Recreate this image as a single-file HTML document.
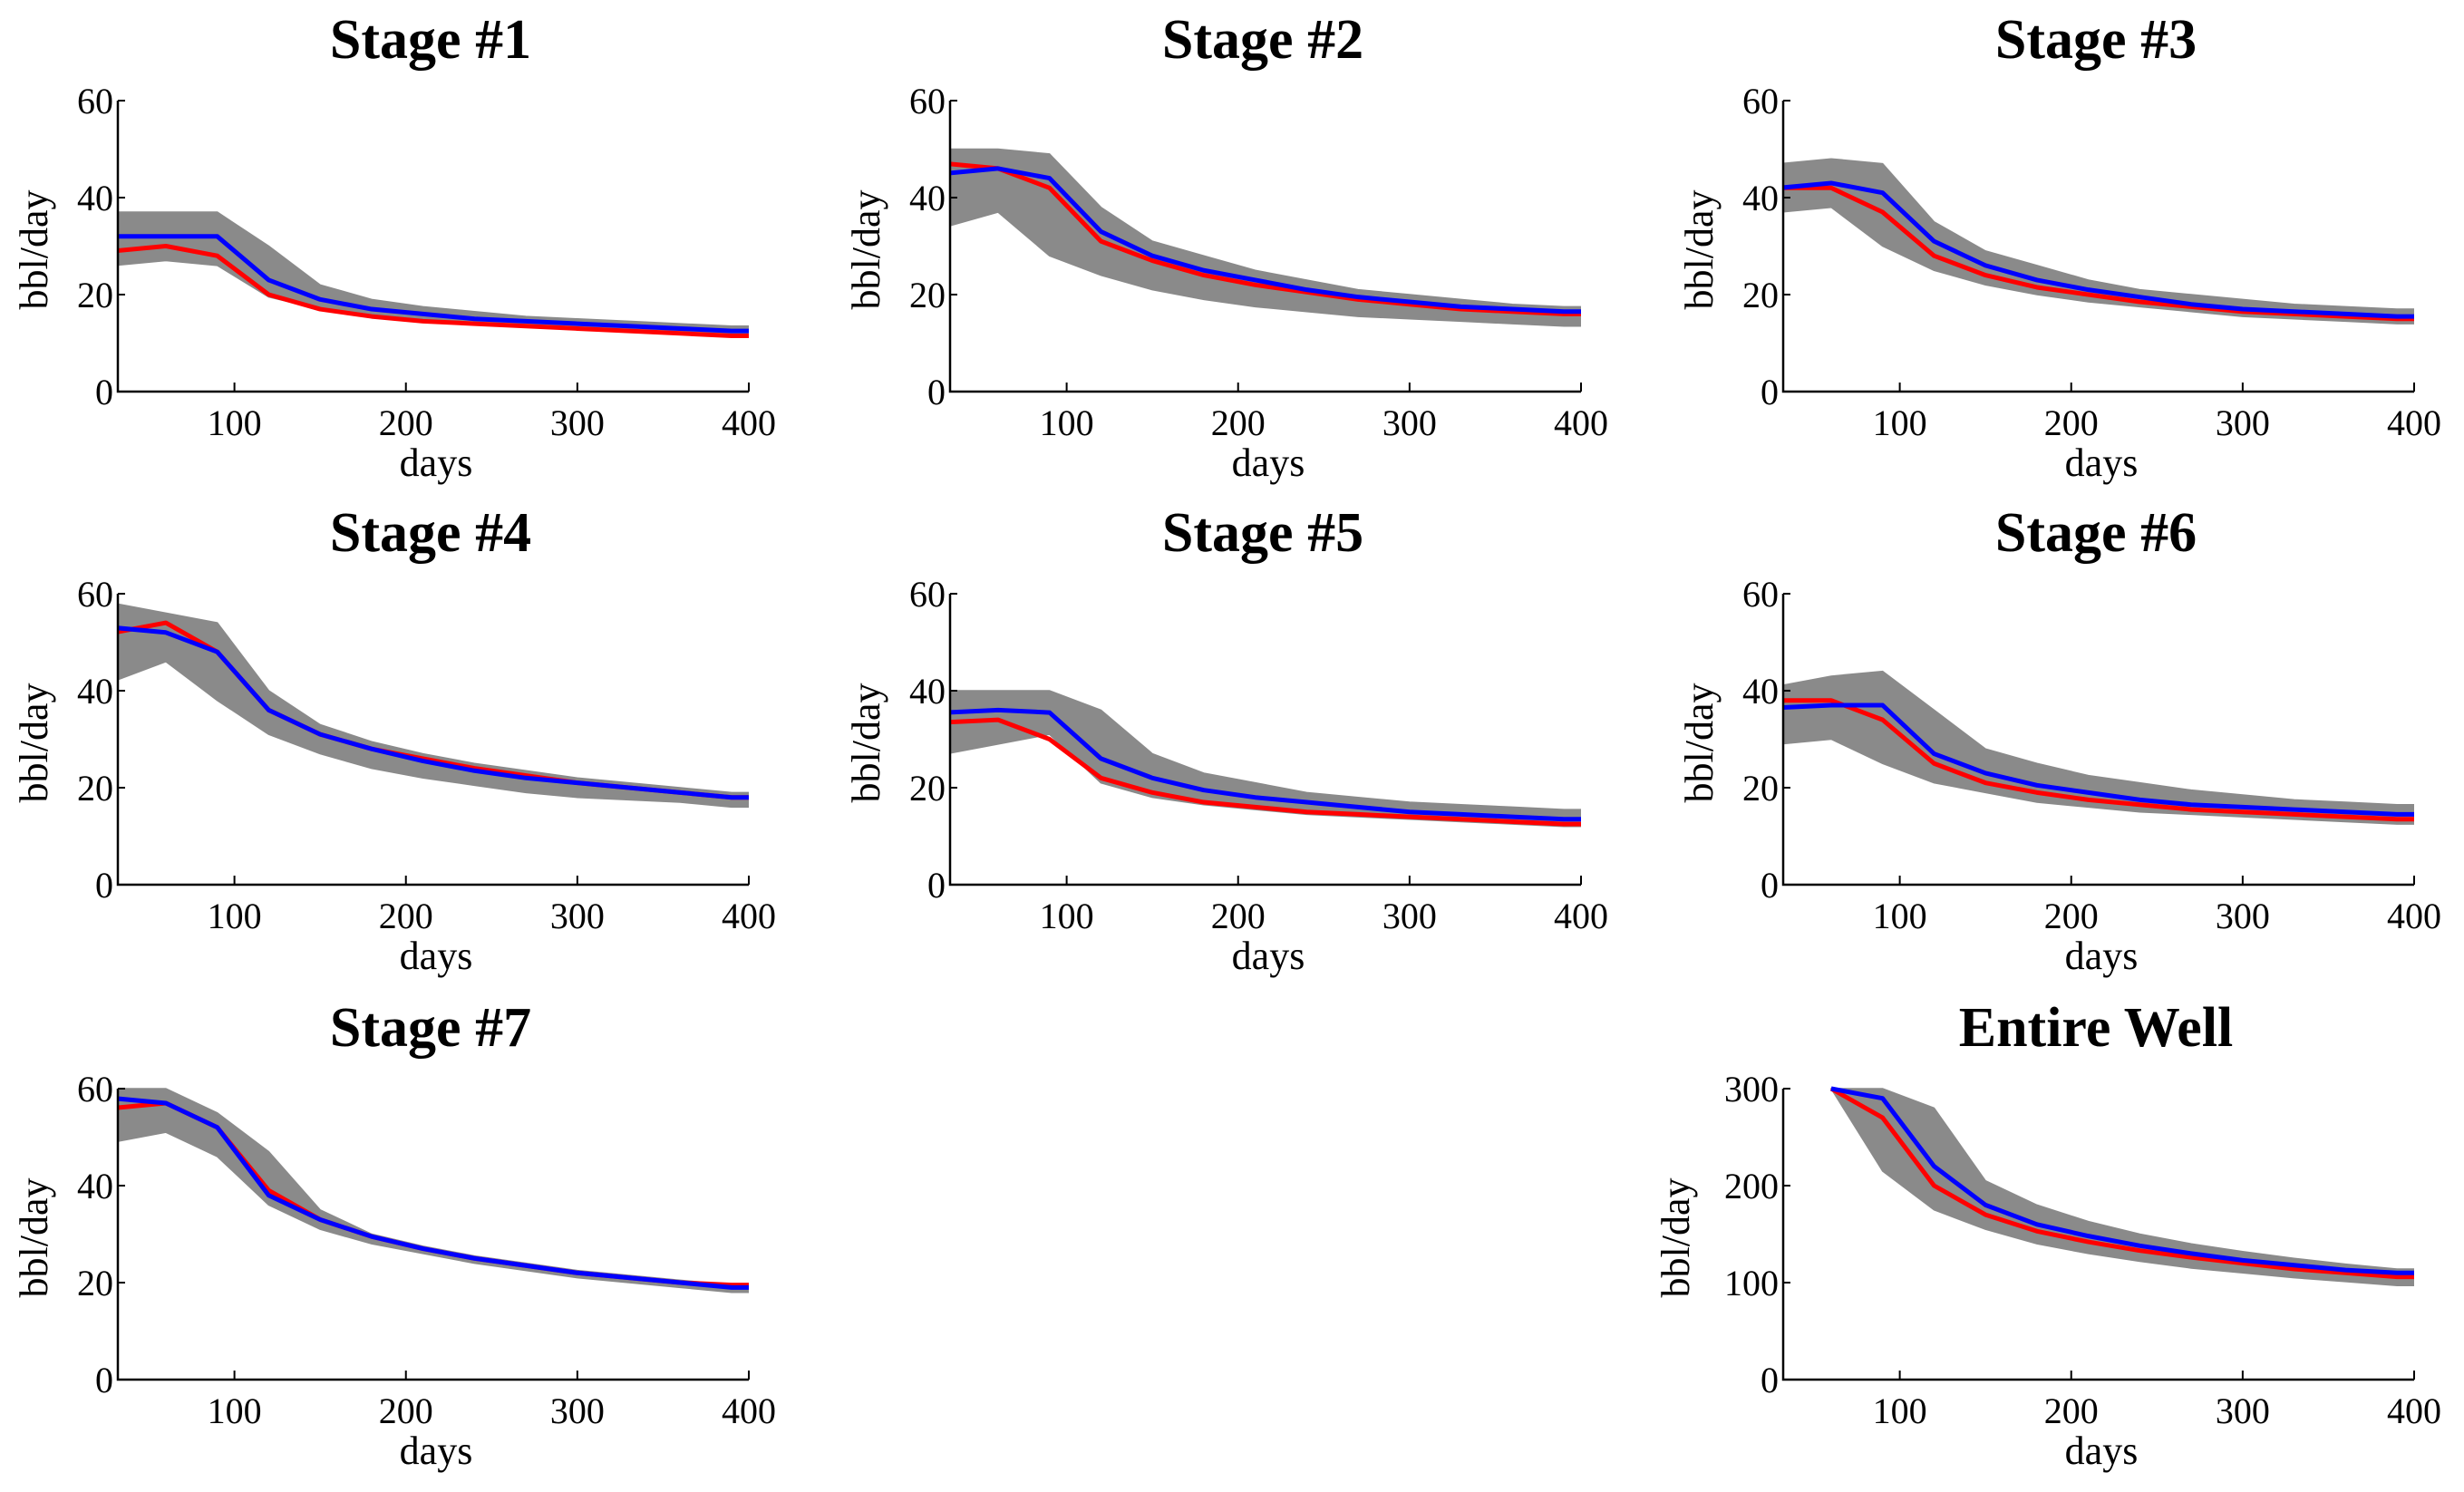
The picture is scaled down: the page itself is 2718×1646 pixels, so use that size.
<!DOCTYPE html>
<html><head><meta charset="utf-8"><style>
html,body{margin:0;padding:0;background:#fff;}
svg{display:block;}
text{font-family:"Liberation Serif",serif;fill:#000;}
</style></head><body>
<svg id="fig" width="2718" height="1646" viewBox="0 0 2718 1646"></svg>
<script>
const days = [30,60,90,120,150,180,210,240,270,300,330,360,390,400];
const wellDays = [60,90,120,150,180,210,240,270,300,330,360,390,400];
const xTicks = [100,200,300,400];
const yTicksStage = [0,20,40,60];
const yTicksWell = [0,100,200,300];
const titles = ["Stage #1","Stage #2","Stage #3","Stage #4","Stage #5","Stage #6","Stage #7","Entire Well"];

const blue1=[32,32,32,23,19,17,16,15,14.5,14,13.5,13,12.5,12.5];
const red1=[29,30,28,20,17,15.5,14.5,14,13.5,13,12.5,12,11.5,11.5];
const up1=[37,37,37,30,22,19,17.5,16.5,15.5,15,14.5,14,13.5,13.5];
const lo1=[26,27,26,19.5,17,15.5,14.5,14,13.5,13,12.5,12,11.5,11.5];

const blue2=[45,46,44,33,28,25,23,21,19.5,18.5,17.5,17,16.5,16.5];
const red2=[47,46,42,31,27,24,22,20.5,19,18,17,16.5,16,16];
const up2=[50,50,49,38,31,28,25,23,21,20,19,18,17.5,17.5];
const lo2=[34,37,28,24,21,19,17.5,16.5,15.5,15,14.5,14,13.5,13.5];

const blue3=[42,43,41,31,26,23,21,19.5,18,17,16.5,16,15.5,15.5];
const red3=[42,42,37,28,24,21.5,20,18.5,17.5,16.5,16,15.5,15,15];
const up3=[47,48,47,35,29,26,23,21,20,19,18,17.5,17,17];
const lo3=[37,38,30,25,22,20,18.5,17.5,16.5,15.5,15,14.5,14,14];

const blue4=[53,52,48,36,31,28,25.5,23.5,22,21,20,19,18,18];
const red4=[52,54,48,36,31,28,26,24,22.5,21,20,19,18,18];
const up4=[58,56,54,40,33,29.5,27,25,23.5,22,21,20,19,19];
const lo4=[42,46,38,31,27,24,22,20.5,19,18,17.5,17,16,16];

const blue5=[35.5,36,35.5,26,22,19.5,18,17,16,15,14.5,14,13.5,13.5];
const red5=[33.5,34,30,22,19,17,16,15,14.5,14,13.5,13,12.5,12.5];
const up5=[40,40,40,36,27,23,21,19,18,17,16.5,16,15.5,15.5];
const lo5=[27,29,31,21,18,16.5,15.5,14.5,14,13.5,13,12.5,12,12];

const blue6=[36.5,37,37,27,23,20.5,19,17.5,16.5,16,15.5,15,14.5,14.5];
const red6=[38,38,34,25,21,19,17.5,16.5,15.5,15,14.5,14,13.5,13.5];
const up6=[41,43,44,36,28,25,22.5,21,19.5,18.5,17.5,17,16.5,16.5];
const lo6=[29,30,25,21,19,17,16,15,14.5,14,13.5,13,12.5,12.5];

const blue7=[58,57,52,38,33,29.5,27,25,23.5,22,21,20,19,19];
const red7=[56,57,52,39,33,29.5,27,25,23.5,22,21,20,19.5,19.5];
const up7=[60,60,55,47,35,30,27.5,25.5,24,22.5,21.5,20.5,19.5,19.5];
const lo7=[49,51,46,36,31,28,26,24,22.5,21,20,19,18,18];

const blueW=[300,290,220,180,160,148,138,130,123,118,113,110,110];
const redW=[300,270,200,170,153,142,133,126,120,114,110,106,106];
const upW=[300,300,280,205,180,163,150,140,132,125,119,114,114];
const loW=[300,215,175,155,140,130,122,115,110,105,101,97,97];

const panels=[
 {col:0,row:0,d:days,b:blue1,r:red1,u:up1,l:lo1,yt:yTicksStage,yo:0},
 {col:1,row:0,d:days,b:blue2,r:red2,u:up2,l:lo2,yt:yTicksStage,yo:0},
 {col:2,row:0,d:days,b:blue3,r:red3,u:up3,l:lo3,yt:yTicksStage,yo:0},
 {col:0,row:1,d:days,b:blue4,r:red4,u:up4,l:lo4,yt:yTicksStage,yo:0},
 {col:1,row:1,d:days,b:blue5,r:red5,u:up5,l:lo5,yt:yTicksStage,yo:0},
 {col:2,row:1,d:days,b:blue6,r:red6,u:up6,l:lo6,yt:yTicksStage,yo:0},
 {col:0,row:2,d:days,b:blue7,r:red7,u:up7,l:lo7,yt:yTicksStage,yo:0},
 {col:2,row:2,d:wellDays,b:blueW,r:redW,u:upW,l:loW,yt:yTicksWell,yo:-26}
];
const NS="http://www.w3.org/2000/svg";
const svg=document.getElementById('fig');
function mk(tag,attrs,parent){const e=document.createElementNS(NS,tag);for(const k in attrs)e.setAttribute(k,attrs[k]);parent.appendChild(e);return e;}
const colX=[0,918,1837], rowY=[0,544,1090];
panels.forEach((p,i)=>{
  const ox=colX[p.col], oy=rowY[p.row];
  const L=130+ox, R=826+ox, T=111+oy, B=432+oy;
  const xmin=32,xmax=400,ymax=p.yt[p.yt.length-1];
  const xs=v=>L+(v-xmin)/(xmax-xmin)*(R-L);
  const ys=v=>B-v/ymax*(B-T);
  const g=mk('g',{},svg);
  
  
  const cid='clip'+i;
  const cp=mk('clipPath',{id:cid},g);
  mk('rect',{x:L,y:T-6,width:R-L,height:B-T+6},cp);
  const t=mk('text',{x:(L+R)/2-3,y:64+oy,'text-anchor':'middle','font-size':62,'font-weight':'bold'},g);
  t.textContent=titles[i];
  
  
  const dg=mk('g',{'clip-path':'url(#'+cid+')'},g);
  let pts=p.d.map((d,k)=>xs(d)+','+ys(p.u[k]));
  for(let k=p.d.length-1;k>=0;k--)pts.push(xs(p.d[k])+','+ys(p.l[k]));
  const band=mk('polygon',{points:pts.join(' '),fill:'#8a8a8a',stroke:'#8a8a8a','stroke-width':1.5},dg);
  
  
  const line=(arr,col,w,name)=>{const e=mk('polyline',{points:p.d.map((d,k)=>xs(d)+','+ys(arr[k])).join(' '),fill:'none',stroke:col,'stroke-width':w,'stroke-linejoin':'round'},dg);
    
    };
  line(p.r,'#ff0000',5,'red-line');
  line(p.b,'#0000ff',5,'blue-line');
  mk('polyline',{points:`${L},${T} ${L},${B} ${R},${B}`,fill:'none',stroke:'#000','stroke-width':2.5},g);
  xTicks.forEach(v=>{
    mk('line',{x1:xs(v),x2:xs(v),y1:B,y2:B-10,stroke:'#000','stroke-width':2},g);
    const tl=mk('text',{x:xs(v),y:B+48,'text-anchor':'middle','font-size':40},g);
    tl.textContent=v;
    
    
  });
  p.yt.forEach(v=>{
    mk('line',{x1:L,x2:L+8,y1:ys(v),y2:ys(v),stroke:'#000','stroke-width':2},g);
    const tl=mk('text',{x:L-5,y:ys(v)+14,'text-anchor':'end','font-size':40},g);
    tl.textContent=v;
    
    
  });
  const xl=mk('text',{x:(L+R)/2+3,y:B+93,'text-anchor':'middle','font-size':44},g);
  xl.textContent='days';
  
  
  const yx=ox+52+p.yo, yy=(T+B)/2+4;
  const yl=mk('text',{x:yx,y:yy,'text-anchor':'middle','font-size':44,transform:`rotate(-90 ${yx} ${yy})`},g);
  yl.textContent='bbl/day';
  
  
});
</script>
</body></html>
